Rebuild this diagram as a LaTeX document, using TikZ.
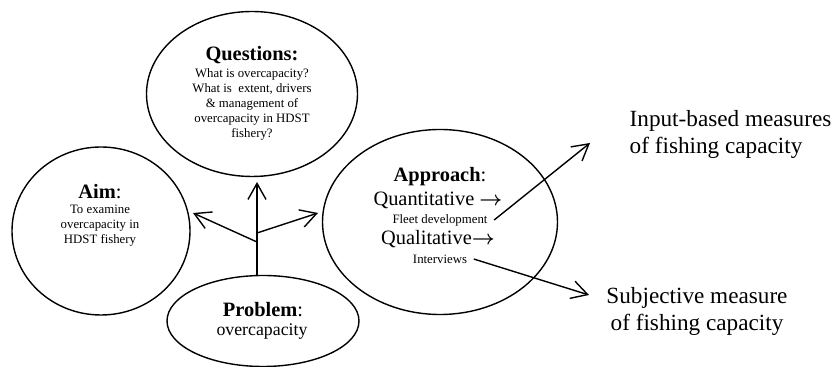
\documentclass[tikz,border=0pt]{standalone}
\usepackage{amsmath}
\usepackage{fontspec}
\setmainfont{Liberation Serif}
\usepackage{tikz}
\usetikzlibrary{shapes.geometric,arrows.meta}

\begin{document}
\begin{tikzpicture}[x=0.5pt, y=-0.5pt, line width=0.7pt,
	bubble/.style={draw, ellipse, inner sep=0pt},
	txt/.style={inner sep=0pt, align=center},
	ttl/.style={inner sep=0pt, font=\fontsize{10.2}{12}\selectfont},
	tiny/.style={inner ysep=0pt, inner xsep=3pt, align=center, font=\fontsize{6.4}{7.4}\selectfont},
	big/.style={inner sep=0pt, font=\fontsize{11.6}{13.5}\selectfont},
	arr/.style={-{Straight Barb[length=8pt, width=9pt]}}]
	\useasboundingbox (0,0) rectangle (836,367);
	\node [bubble, minimum width=105.5pt, minimum height=82.5pt] (questions) at (252,94) {};
	\node [bubble, minimum width=89pt, minimum height=84pt] (aim) at (101,231) {};
	\node [bubble, minimum width=96pt, minimum height=45.5pt] (problem) at (263,321) {};
	\node [bubble, minimum width=117.5pt, minimum height=92.5pt] (approach) at (440,222) {};
	\node [ttl] (qtitle) at (252,55) {\textbf{Questions:}};
	\node [tiny] (qbody) at (252,104.5) {What is overcapacity?\\What is\ \ extent, drivers\\\& management of\\overcapacity in HDST\\fishery?};
	\node [ttl] (atitle) at (100,192) {\textbf{Aim}:};
	\node [tiny, font=\fontsize{6.4}{7.5}\selectfont] (abody) at (100,226) {To examine\\overcapacity in\\HDST fishery};
	\node [ttl] (ptitle) at (263,310) {\textbf{Problem}:};
	\node [txt, font=\fontsize{8.9}{10}\selectfont] (pbody) at (262,332) {overcapacity};
	\node [ttl] (aptitle) at (440,177) {\textbf{Approach}:};
	\node [ttl] (quanti) at (438,200) {Quantitative $\boldsymbol{\rightarrow}$};
	\node [tiny] (fleet) at (440,220) {Fleet development};
	\node [ttl] (quali) at (438,239) {Qualitative$\boldsymbol{\rightarrow}$};
	\node [tiny] (interv) at (440,259) {Interviews};
	\node [big, anchor=west, align=left] (input) at (629,134) {Input-based measures\\of fishing capacity};
	\node [big, align=center] (subj) at (697,311) {Subjective measure\\of fishing capacity};
	\coordinate (tipQ) at (257,182);
	\coordinate (tipA) at (193,213);
	\coordinate (tipB) at (318,213);
	\coordinate (forkL) at (257,242);
	\coordinate (forkR) at (257,233);
	\coordinate (tipIn) at (590,143);
	\coordinate (tipSub) at (589,295);
	\draw [arr] (problem.north -| tipQ) -- (tipQ);
	\draw [arr] (forkL) -- (tipA);
	\draw [arr] (forkR) -- (tipB);
	\draw [arr] (fleet.east) -- (tipIn);
	\draw [arr] (interv.east) -- (tipSub);
\end{tikzpicture}
\end{document}
